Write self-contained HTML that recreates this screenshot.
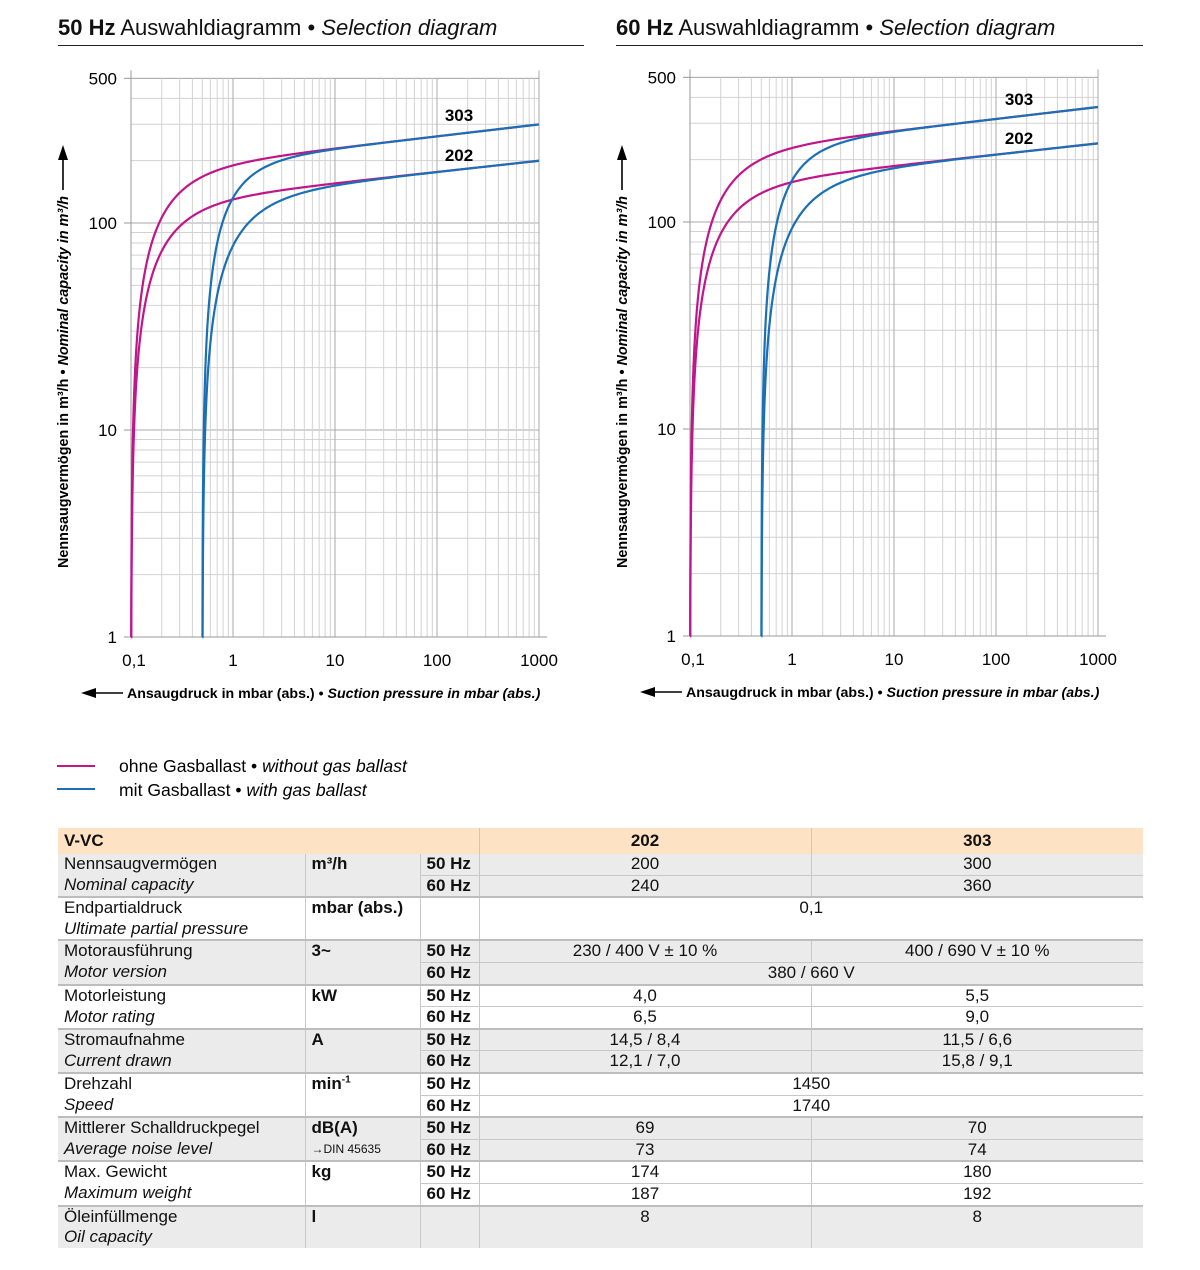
<!DOCTYPE html>
<html><head><meta charset="utf-8">
<style>
body{margin:0;background:#fff;font-family:"Liberation Sans",sans-serif;color:#111;}
.wrap{position:relative;width:1200px;height:1270px;overflow:hidden;}
.title{position:absolute;top:15px;font-size:22px;white-space:nowrap;}
.rule{position:absolute;top:45px;height:1px;background:#222;}
svg{position:absolute;left:0;top:0;}
table{position:absolute;left:58px;top:828px;border-collapse:collapse;width:1085px;font-size:17px;}
td{padding:0 6px;height:20.6px;line-height:20px;vertical-align:top;white-space:nowrap;}
tr.h td{background:#fde3c3;font-weight:bold;height:25px;line-height:26px;}
.g td{background:#ebebeb;}
.c{text-align:center;}
.b{font-weight:bold;}
.i{font-style:italic;}
td.v{border-left:1px solid #c8c8c8;}
tr.top td{border-top:2px solid #bdbdbd;}
tr.sub td.hz, tr.sub td.val{border-top:1px solid #c8c8c8;}
</style></head><body><div class="wrap">
<div class="title" style="left:58px"><b>50 Hz</b> Auswahldiagramm • <i>Selection diagram</i></div>
<div class="rule" style="left:58px;width:526px"></div>
<div class="title" style="left:616px"><b>60 Hz</b> Auswahldiagramm • <i>Selection diagram</i></div>
<div class="rule" style="left:616px;width:527px"></div>
<svg id="s" width="1200" height="820" xmlns="http://www.w3.org/2000/svg" font-family="Liberation Sans, sans-serif"></svg>
<table>
<colgroup><col style="width:247px"><col style="width:115px"><col style="width:59px"><col style="width:332px"><col style="width:332px"></colgroup>
<tr class="h"><td colspan="3">V-VC</td><td class="c v">202</td><td class="c v">303</td></tr>
<tr class="g"><td>Nennsaugvermögen</td><td class="b v">m³/h</td><td class="b v hz">50 Hz</td><td class="c v val">200</td><td class="c v val">300</td></tr>
<tr class="g sub"><td class="i">Nominal capacity</td><td class="v"></td><td class="b v hz">60 Hz</td><td class="c v val">240</td><td class="c v val">360</td></tr>
<tr class="top"><td>Endpartialdruck</td><td class="b v">mbar (abs.)</td><td class="v"></td><td class="c v" colspan="2">0,1</td></tr>
<tr><td class="i">Ultimate partial pressure</td><td class="v"></td><td class="v"></td><td class="v" colspan="2"></td></tr>
<tr class="g top"><td>Motorausführung</td><td class="b v">3~</td><td class="b v hz">50 Hz</td><td class="c v val">230 / 400 V ± 10 %</td><td class="c v val">400 / 690 V ± 10 %</td></tr>
<tr class="g sub"><td class="i">Motor version</td><td class="v"></td><td class="b v hz">60 Hz</td><td class="c v val" colspan="2">380 / 660 V</td></tr>
<tr class="top"><td>Motorleistung</td><td class="b v">kW</td><td class="b v hz">50 Hz</td><td class="c v val">4,0</td><td class="c v val">5,5</td></tr>
<tr class="sub"><td class="i">Motor rating</td><td class="v"></td><td class="b v hz">60 Hz</td><td class="c v val">6,5</td><td class="c v val">9,0</td></tr>
<tr class="g top"><td>Stromaufnahme</td><td class="b v">A</td><td class="b v hz">50 Hz</td><td class="c v val">14,5 / 8,4</td><td class="c v val">11,5 / 6,6</td></tr>
<tr class="g sub"><td class="i">Current drawn</td><td class="v"></td><td class="b v hz">60 Hz</td><td class="c v val">12,1 / 7,0</td><td class="c v val">15,8 / 9,1</td></tr>
<tr class="top"><td>Drehzahl</td><td class="b v">min<sup style="font-size:10px;line-height:0">-1</sup></td><td class="b v hz">50 Hz</td><td class="c v val" colspan="2">1450</td></tr>
<tr class="sub"><td class="i">Speed</td><td class="v"></td><td class="b v hz">60 Hz</td><td class="c v val" colspan="2">1740</td></tr>
<tr class="g top"><td>Mittlerer Schalldruckpegel</td><td class="b v">dB(A)</td><td class="b v hz">50 Hz</td><td class="c v val">69</td><td class="c v val">70</td></tr>
<tr class="g sub"><td class="i">Average noise level</td><td class="v" style="font-size:12px">→DIN 45635</td><td class="b v hz">60 Hz</td><td class="c v val">73</td><td class="c v val">74</td></tr>
<tr class="top"><td>Max. Gewicht</td><td class="b v">kg</td><td class="b v hz">50 Hz</td><td class="c v val">174</td><td class="c v val">180</td></tr>
<tr class="sub"><td class="i">Maximum weight</td><td class="v"></td><td class="b v hz">60 Hz</td><td class="c v val">187</td><td class="c v val">192</td></tr>
<tr class="g top"><td>Öleinfüllmenge</td><td class="b v">l</td><td class="v"></td><td class="c v">8</td><td class="c v">8</td></tr>
<tr class="g"><td class="i">Oil capacity</td><td class="v"></td><td class="v"></td><td class="v"></td><td class="v"></td></tr>
</table>
</div>
<script>
var s=document.getElementById('s'),h='';
function L(x1,y1,x2,y2,c,w){h+='<line x1="'+x1+'" y1="'+y1+'" x2="'+x2+'" y2="'+y2+'" stroke="'+c+'" stroke-width="'+(w||1)+'"/>';}
function T(x,y,t,a,extra){h+='<text x="'+x+'" y="'+y+'" text-anchor="'+(a||'middle')+'" '+(extra||'')+'>'+t+'</text>';}
function chart(X0,Y0,mult,lab303,lab202){
 var dx=102,dy=207,top=Y0-Math.log10(500)*dy;
 function xp(p){return X0+dx*Math.log10(p/0.1);}
 function yv(v){return Y0-dy*Math.log10(v);}
 [1,10,100].forEach(function(d){for(var m=1;m<10;m++){var v=d*m;if(v>500)break;var y=yv(v);L(X0,y,X0+dx*4,y,m==1?'#aaa':'#d2d2d2',1);}});
 L(X0,top,X0+dx*4,top,'#aaa',1);
 [0.1,1,10,100].forEach(function(d){for(var m=1;m<10;m++){var x=xp(d*m);L(x,top,x,Y0,m==1?'#aaa':'#d2d2d2',1);}});
 L(xp(1000),top-8,xp(1000),Y0,'#aaa',1);
 L(X0,top-8,X0,Y0,'#999',1);L(X0-7,Y0,X0+dx*4+8,Y0,'#999',1);
 [[500,'500'],[100,'100'],[10,'10'],[1,'1']].forEach(function(a){L(X0-7,yv(a[0]),X0,yv(a[0]),'#999',1);T(X0-14,yv(a[0])+6,a[1],'end','font-size="17"');});
 [[0.1,'0,1'],[1,'1'],[10,'10'],[100,'100'],[1000,'1000']].forEach(function(a){T(xp(a[0])+(a[0]==0.1?3:0),Y0+29,a[1],'middle','font-size="17"');});
 var cs=[[201,0.0577,0.1,1.25,'#c0168a'],[137.6,0.054,0.1,1.25,'#c0168a'],[201,0.0577,0.5,1.55,'#1a6fb5'],[137.6,0.054,0.5,1.2,'#1a6fb5']];
 cs.forEach(function(c){var d='',A=c[0]*mult;
  for(var i=0;i<=400;i++){var t=Math.pow(10,-5+i*(Math.log10(1000/c[2]-1)+5)/400);var p=c[2]*(1+t);
   var v=A*Math.pow(p,c[1])*(1-Math.pow(c[2]/p,c[3]));if(v<1)v=1;
   d+=(i?'L':'M')+xp(p).toFixed(2)+' '+yv(v).toFixed(2);}
  d='M'+xp(c[2])+' '+Y0+d.replace('M','L');
  h+='<path d="'+d+'" fill="none" stroke="'+c[4]+'" stroke-width="2.2"/>';});
 T(lab303[0],lab303[1],'303','middle','font-size="17" font-weight="bold"');
 T(lab202[0],lab202[1],'202','middle','font-size="17" font-weight="bold"');
 var cx=X0-68;
 h+='<text transform="translate('+(cx+5)+',382) rotate(-90)" text-anchor="middle" font-size="14.4" font-weight="bold">Nennsaugvermögen in m³/h • <tspan font-style="italic">Nominal capacity in m³/h</tspan></text>';
 L(cx,190,cx,158,'#000',1.6);h+='<polygon points="'+(cx-5)+',160 '+(cx+5)+',160 '+cx+',145" fill="#000"/>';
 h+='<polygon points="'+(X0-50)+','+(Y0+56)+' '+(X0-35)+','+(Y0+51)+' '+(X0-35)+','+(Y0+61)+'" fill="#000"/>';L(X0-37,Y0+56,X0-8,Y0+56,'#000',1.6);
 T(X0-4,Y0+61,'Ansaugdruck in mbar (abs.) • <tspan font-style="italic">Suction pressure in mbar (abs.)</tspan>','start','font-size="14.2" font-weight="bold"');
}
chart(131,637,1,[459,121],[459,161]);
chart(690,636,1.2,[1019,105],[1019,144]);
L(57,766,95,766,'#c0168a',2);L(57,789,95,789,'#1a6fb5',2);
T(119,772,'ohne Gasballast • <tspan font-style="italic">without gas ballast</tspan>','start','font-size="17.6"');
T(119,796,'mit Gasballast • <tspan font-style="italic">with gas ballast</tspan>','start','font-size="17.6"');
s.innerHTML=h;
</script>
</body></html>
